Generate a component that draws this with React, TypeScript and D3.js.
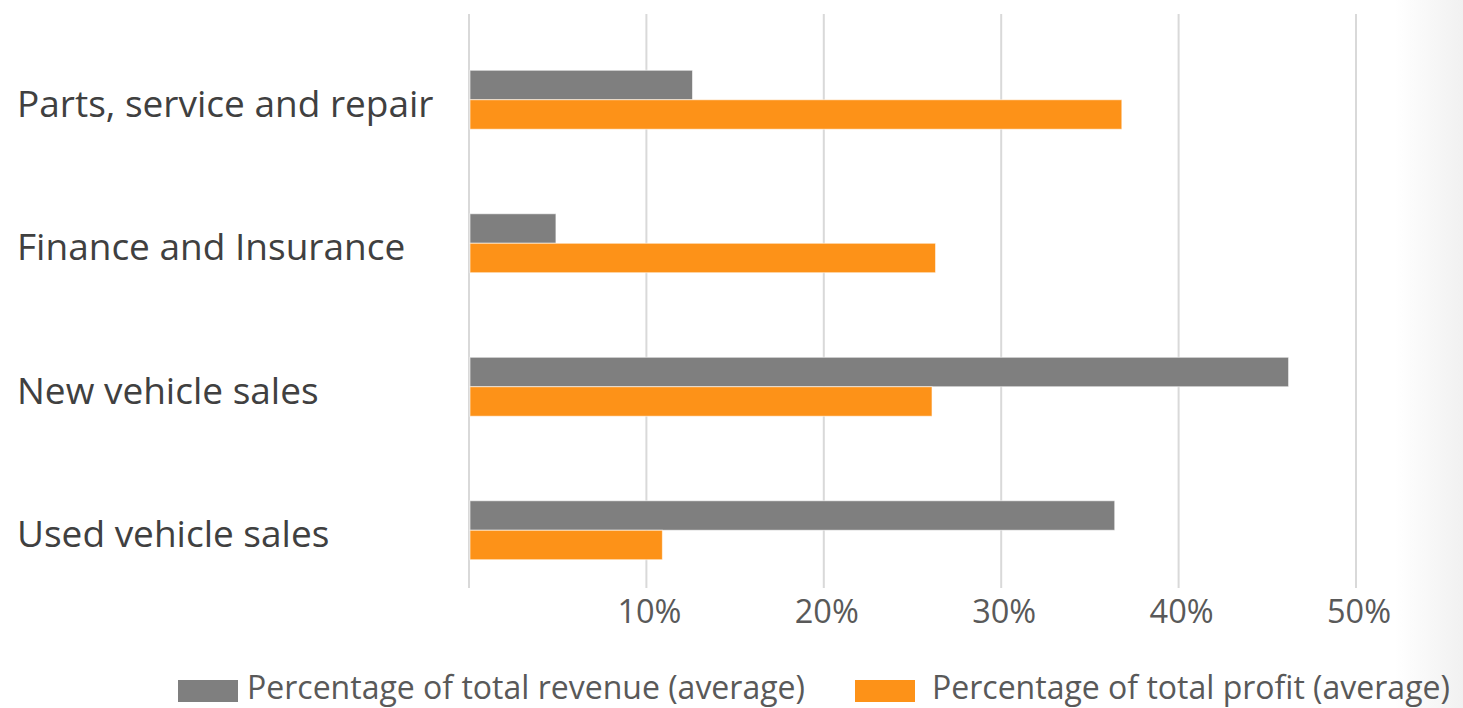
import { useEffect, useRef } from 'react'
import * as d3 from 'd3'

const categories = ['Parts, service and repair', 'Finance and Insurance', 'New vehicle sales', 'Used vehicle sales']
const revenueValues = [12.6, 4.9, 46.2, 36.4]
const profitValues = [36.8, 26.3, 26.1, 10.9]
const tickValues = [10, 20, 30, 40, 50]
const seriesNames = ['Percentage of total revenue (average)', 'Percentage of total profit (average)']

const GRAY = '#7f7f7f'
const ORANGE = '#fd9218'
const TEXT = '#595959'
const FONT = '"Open Sans", sans-serif'

export default function App() {
  const svgRef = useRef<SVGSVGElement>(null)

  useEffect(() => {
    if (!svgRef.current) return
    const width = 1463
    const height = 708
    const svg = d3.select(svgRef.current)
    svg.selectAll('*').remove()
    svg.attr('width', width).attr('height', height)

    // faint photo fade on the right edge
    const defs = svg.append('defs')
    const grad = defs.append('linearGradient').attr('id', 'fade').attr('x1', 0).attr('x2', 1)
    grad.append('stop').attr('offset', '0%').attr('stop-color', '#ffffff')
    grad.append('stop').attr('offset', '100%').attr('stop-color', '#f1f1f1')
    svg.append('rect').attr('x', 1395).attr('y', 0).attr('width', 68).attr('height', height).attr('fill', 'url(#fade)')

    const x = d3.scaleLinear().domain([0, 50]).range([469, 1356])
    const y = d3.scaleBand<string>().domain(categories).range([28, 602]).paddingInner(0.589).paddingOuter(0.2945)
    const half = y.bandwidth() / 2

    // gridlines
    svg.append('g')
      .selectAll('line')
      .data([0, ...tickValues])
      .enter().append('line')
      .attr('x1', d => x(d))
      .attr('x2', d => x(d))
      .attr('y1', 14)
      .attr('y2', 588)
      .attr('stroke', '#d9d9d9')
      .attr('stroke-width', 2)

    // tick labels
    svg.append('g')
      .selectAll('text')
      .data(tickValues)
      .enter().append('text')
      .attr('x', d => x(d) + 3)
      .attr('y', 623)
      .attr('text-anchor', 'middle')
      .attr('fill', TEXT)
      .attr('font-family', FONT)
      .attr('font-size', '32.5px')
      .text(d => `${d}%`)

    // bars
    const bars = svg.append('g')
    bars.selectAll('rect.rev')
      .data(categories)
      .enter().append('rect')
      .attr('class', 'rev')
      .attr('x', x(0) + 1)
      .attr('y', d => y(d)!)
      .attr('width', (_, i) => x(revenueValues[i]) - x(0) - 1)
      .attr('height', half)
      .attr('fill', GRAY)
      .attr('stroke', '#ffffff')
      .attr('stroke-opacity', 0.6)
      .attr('stroke-width', 1)

    bars.selectAll('rect.prof')
      .data(categories)
      .enter().append('rect')
      .attr('class', 'prof')
      .attr('x', x(0) + 1)
      .attr('y', d => y(d)! + half)
      .attr('width', (_, i) => x(profitValues[i]) - x(0) - 1)
      .attr('height', half)
      .attr('fill', ORANGE)
      .attr('stroke', '#ffffff')
      .attr('stroke-opacity', 0.6)
      .attr('stroke-width', 1)

    // category labels
    svg.append('g')
      .selectAll('text')
      .data(categories)
      .enter().append('text')
      .attr('x', 17)
      .attr('y', d => y(d)! + half + 17)
      .attr('fill', '#404040')
      .attr('font-family', FONT)
      .attr('font-size', '37px')
      .text(d => d)

    // legend
    const legend = svg.append('g')
    const items = [
      { name: seriesNames[0], color: GRAY, sx: 178, tx: 247 },
      { name: seriesNames[1], color: ORANGE, sx: 855, tx: 932 },
    ]
    items.forEach(it => {
      legend.append('rect').attr('x', it.sx).attr('y', 680).attr('width', 60).attr('height', 22).attr('fill', it.color)
      legend.append('text')
        .attr('x', it.tx)
        .attr('y', 699)
        .attr('fill', TEXT)
        .attr('font-family', FONT)
        .attr('font-size', '32px')
        .text(it.name)
    })
  }, [])

  return (
    <div style={{ position: 'absolute', left: 0, top: 0 }}>
      <svg ref={svgRef} style={{ display: 'block' }} />
    </div>
  )
}
